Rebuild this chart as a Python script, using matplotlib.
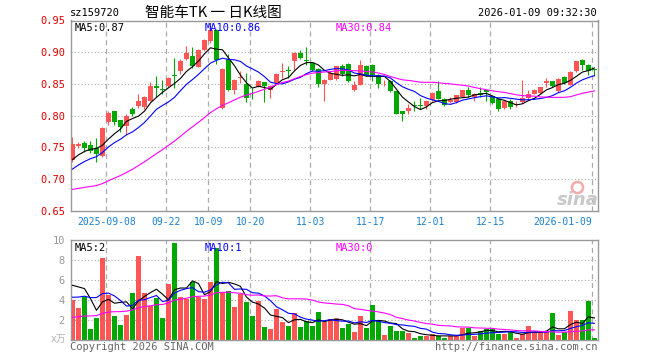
import numpy as np
import pandas as pd
import matplotlib
matplotlib.use('Agg')
import matplotlib.pyplot as plt

plt.rcParams['font.family'] = ['DejaVu Sans Mono', 'Noto Sans CJK SC']

code = 'sz159720'
title = '智能车TK 一 日K线图'
stamp = '2026-01-09 09:32:30'

# trading days shown (exchange holidays removed)
holidays = ['2025-10-01', '2025-10-02', '2025-10-03', '2025-10-06', '2025-10-07',
            '2025-10-08', '2026-01-01', '2026-01-02']
tick_dates = ['2025-09-08', '2025-09-22', '2025-10-09', '2025-10-20', '2025-11-03',
              '2025-11-17', '2025-12-01', '2025-12-15', '2026-01-09']
tick_labels = ['2025-09-08', '09-22', '10-09', '10-20', '11-03',
               '11-17', '12-01', '12-15', '2026-01-09']

open_ = [0.730, 0.752, 0.757, 0.754, 0.749, 0.737, 0.790, 0.807, 0.793, 0.784,
         0.810, 0.815, 0.814, 0.824, 0.847, 0.842, 0.847, 0.864, 0.871, 0.889,
         0.894, 0.877, 0.904, 0.918, 0.935, 0.8125, 0.889, 0.840, 0.860, 0.8505,
         0.833, 0.846, 0.8525, 0.840, 0.8515, 0.869, 0.872, 0.887, 0.899, 0.888,
         0.883, 0.873, 0.8505, 0.857, 0.858, 0.878, 0.882, 0.840, 0.849, 0.878,
         0.880, 0.8645, 0.851, 0.854, 0.8385, 0.807, 0.807, 0.8165, 0.8155, 0.816,
         0.8255, 0.8385, 0.8265, 0.8215, 0.8215, 0.8295, 0.840, 0.8295, 0.836, 0.840,
         0.8305, 0.8265, 0.8125, 0.823, 0.817, 0.8215, 0.828, 0.835, 0.836, 0.8515,
         0.854, 0.8385, 0.861, 0.849, 0.870, 0.888, 0.880, 0.8725]
high = [0.767, 0.758, 0.761, 0.760, 0.765, 0.782, 0.807, 0.808, 0.794, 0.802,
        0.813, 0.835, 0.831, 0.853, 0.862, 0.857, 0.861, 0.891, 0.889, 0.910,
        0.909, 0.905, 0.921, 0.943, 0.936, 0.875, 0.898, 0.858, 0.871, 0.867,
        0.844, 0.856, 0.853, 0.848, 0.867, 0.883, 0.879, 0.900, 0.903, 0.909,
        0.884, 0.875, 0.858, 0.870, 0.879, 0.882, 0.883, 0.854, 0.888, 0.880,
        0.881, 0.866, 0.857, 0.856, 0.8395, 0.808, 0.819, 0.823, 0.828, 0.825,
        0.837, 0.854, 0.828, 0.830, 0.833, 0.841, 0.845, 0.836, 0.846, 0.841,
        0.832, 0.828, 0.824, 0.826, 0.823, 0.857, 0.841, 0.842, 0.846, 0.859,
        0.855, 0.859, 0.862, 0.870, 0.887, 0.890, 0.881, 0.874]
low = [0.727, 0.749, 0.743, 0.741, 0.727, 0.735, 0.785, 0.786, 0.774, 0.771,
       0.800, 0.812, 0.811, 0.823, 0.830, 0.834, 0.846, 0.844, 0.866, 0.888,
       0.875, 0.876, 0.902, 0.915, 0.881, 0.811, 0.839, 0.834, 0.852, 0.821,
       0.826, 0.845, 0.821, 0.828, 0.850, 0.859, 0.859, 0.872, 0.889, 0.880,
       0.871, 0.845, 0.824, 0.856, 0.857, 0.862, 0.853, 0.8385, 0.848, 0.862,
       0.854, 0.844, 0.847, 0.8375, 0.802, 0.791, 0.8035, 0.807, 0.810, 0.810,
       0.824, 0.826, 0.816, 0.820, 0.8205, 0.829, 0.830, 0.823, 0.829, 0.823,
       0.818, 0.807, 0.810, 0.810, 0.814, 0.820, 0.8265, 0.834, 0.835, 0.846,
       0.845, 0.8375, 0.850, 0.848, 0.869, 0.8725, 0.8645, 0.863]
close = [0.755, 0.755, 0.749, 0.745, 0.739, 0.780, 0.804, 0.790, 0.782, 0.800,
         0.802, 0.823, 0.829, 0.847, 0.844, 0.841, 0.859, 0.863, 0.887, 0.899,
         0.878, 0.904, 0.919, 0.935, 0.888, 0.874, 0.840, 0.857, 0.861, 0.828,
         0.832, 0.854, 0.8475, 0.847, 0.8655, 0.870, 0.871, 0.899, 0.891, 0.887,
         0.872, 0.8505, 0.857, 0.868, 0.878, 0.865, 0.854, 0.849, 0.880, 0.8635,
         0.8645, 0.8505, 0.852, 0.8385, 0.8035, 0.802, 0.8125, 0.816, 0.815, 0.824,
         0.836, 0.827, 0.8175, 0.8255, 0.832, 0.840, 0.832, 0.835, 0.832, 0.837,
         0.8195, 0.810, 0.823, 0.814, 0.819, 0.828, 0.835, 0.841, 0.8455, 0.854,
         0.8465, 0.858, 0.8515, 0.869, 0.8855, 0.880, 0.870, 0.872]
volume = [4.0, 3.2, 4.35, 1.1, 2.2, 8.2, 4.5, 2.4, 1.5, 2.5,
          4.7, 8.4, 4.7, 3.4, 4.2, 2.2, 5.6, 9.7, 4.3, 4.15,
          5.8, 4.3, 4.1, 5.8, 9.2, 4.85, 4.9, 3.3, 4.6, 3.8,
          2.4, 3.9, 1.3, 1.1, 3.1, 1.8, 1.4, 2.7, 1.3, 1.9,
          1.4, 2.8, 1.8, 2.1, 2.2, 1.2, 1.6, 0.8, 2.4, 1.2,
          3.5, 1.9, 0.5, 1.4, 0.9, 0.9, 0.7, 0.25, 0.4, 0.4,
          0.6, 0.4, 0.25, 0.4, 0.4, 1.2, 1.2, 0.4, 0.9, 1.1,
          1.1, 0.6, 0.6, 0.8, 0.25, 0.6, 1.4, 0.8, 0.8, 0.8,
          2.7, 0.5, 0.8, 2.9, 2.0, 2.0, 3.9, 0.25]

# sessions before the window, only used to seed the moving averages
pre_close = [0.706, 0.703, 0.700, 0.698, 0.685, 0.672, 0.665, 0.660, 0.655, 0.650,
             0.648, 0.652, 0.655, 0.650, 0.653, 0.657, 0.660, 0.662, 0.664, 0.665,
             0.690, 0.695, 0.700, 0.707, 0.713, 0.718, 0.722, 0.728, 0.732]
pre_volume = [1.5, 2.0, 1.0, 1.2, 1.3, 0.9, 1.1, 1.4, 1.0, 1.2,
              1.5, 1.3, 1.1, 1.0, 1.4, 1.2, 1.3, 1.5, 1.1, 1.3,
              3.0, 3.5, 2.5, 2.2, 4.2, 4.0, 5.2, 6.1, 8.05]

ma_labels_price = ['MA5:0.87', 'MA10:0.86', 'MA30:0.84']
ma_labels_vol = ['MA5:2', 'MA10:1', 'MA30:0']
vol_unit = 'x万'

RED = '#ff5555'
GREEN = '#00a800'
MA_COLORS = ['black', '#0000ff', '#ff00ff']
GRID = '#aaaaaa'
FRAME = '#999999'

days = pd.bdate_range('2025-08-29', '2026-01-09')
days = days[~days.isin(pd.to_datetime(holidays))]
x = np.arange(len(days))
tick_x = np.array([days.get_loc(pd.Timestamp(d)) for d in tick_dates]) - 0.35

o = np.array(open_); h = np.array(high); l = np.array(low); c = np.array(close)
v = np.array(volume)
up = c >= o
colors = np.where(up, RED, GREEN)

n_pre = len(pre_close)
cs = pd.Series(pre_close + close)
vs = pd.Series(pre_volume + volume)
ma_p = [cs.rolling(n).mean().values[n_pre:] for n in (5, 10, 30)]
ma_v = [vs.rolling(n).mean().values[n_pre:] for n in (5, 10, 30)]

fig = plt.figure(figsize=(6.6, 3.6), dpi=100)
ax = fig.add_axes([70.5 / 660, 1 - 211 / 360, 527.2 / 660, 190.5 / 360])
axv = fig.add_axes([70.5 / 660, 1 - 340 / 360, 527.2 / 660, 100 / 360])

xlim = (-0.33, 87.55)

# price panel
for yv in [0.70, 0.75, 0.80, 0.85, 0.90]:
    ax.axhline(yv, color=GRID, lw=0.8, ls=(0, (1, 2)), zorder=0)
for tx in tick_x:
    ax.axvline(tx, color=GRID, lw=0.9, ls=(0, (4, 3)), zorder=0)
    axv.axvline(tx, color=GRID, lw=0.9, ls=(0, (4, 3)), zorder=0)

# sina watermark
ax.text(1.002, 0.012, 'sina', transform=ax.transAxes, ha='right', va='bottom',
        fontsize=13, fontweight='bold', style='italic', color='#c8c8c8',
        family='DejaVu Sans', zorder=1)
ax.plot([0.96], [0.125], marker='o', ms=8, mfc='none', mec='#f4aaaa', mew=1.8,
        transform=ax.transAxes, zorder=1)

ax.vlines(x, l, h, colors=colors, lw=0.8, zorder=2)
body = np.maximum(np.abs(c - o), 0.0012)
ax.bar(x, body, bottom=np.minimum(o, c), width=0.78, color=colors, lw=0, zorder=3)
for m, col in zip(ma_p, MA_COLORS):
    ax.plot(x, m, color=col, lw=0.8, zorder=4)

ax.set_xlim(*xlim)
ax.set_ylim(0.65, 0.95)
ax.set_yticks([0.65, 0.70, 0.75, 0.80, 0.85, 0.90, 0.95])
ax.set_yticklabels(['%.2f' % t for t in [0.65, 0.70, 0.75, 0.80, 0.85, 0.90, 0.95]])
ax.tick_params(axis='y', length=0, pad=4, labelsize=7.5, labelcolor='#e00000')
ax.set_xticks(tick_x)
ax.set_xticklabels(tick_labels)
ax.tick_params(axis='x', length=0, pad=4, labelsize=7, labelcolor='#1a80d0')
ax.get_xticklabels()[-1].set_ha('right')
for s in ax.spines.values():
    s.set_color(FRAME)
    s.set_linewidth(1.0)

for lab, col, fx in zip(ma_labels_price, MA_COLORS, [0.008, 0.255, 0.502]):
    ax.text(fx, 0.985, lab, transform=ax.transAxes, color=col, fontsize=7.5,
            ha='left', va='top')

# volume panel
for yv in [2, 4, 6, 8]:
    axv.axhline(yv, color=GRID, lw=0.8, ls=(0, (1, 2)), zorder=0)
axv.bar(x, v, width=0.8, color=colors, lw=0, zorder=2)
for m, col in zip(ma_v, MA_COLORS):
    axv.plot(x, m, color=col, lw=0.8, zorder=4)
axv.set_xlim(*xlim)
axv.set_ylim(0, 10)
axv.set_yticks([2, 4, 6, 8, 10])
axv.set_yticklabels(['2', '4', '6', '8', '10'])
axv.tick_params(axis='y', length=0, pad=4, labelsize=7.5, labelcolor='#999999')
axv.set_xticks([])
for s in axv.spines.values():
    s.set_color(FRAME)
    s.set_linewidth(1.0)
for lab, col, fx in zip(ma_labels_vol, MA_COLORS, [0.008, 0.255, 0.502]):
    axv.text(fx, 0.97, lab, transform=axv.transAxes, color=col, fontsize=7.5,
             ha='left', va='top')

# header and footer text
fig.text(70 / 660, 1 - 13 / 360, code, ha='left', va='center', fontsize=7.5)
fig.text(213 / 660, 1 - 13 / 360, title, ha='center', va='center', fontsize=10.5,
         family=['Noto Sans CJK SC', 'DejaVu Sans'])
fig.text(597 / 660, 1 - 13 / 360, stamp, ha='right', va='center', fontsize=7.5)
fig.text(70 / 660, 1 - 347 / 360, 'Copyright 2026 SINA.COM', ha='left', va='center',
         fontsize=7.5, color='#666666')
fig.text(597 / 660, 1 - 347 / 360, 'http://finance.sina.com.cn', ha='right',
         va='center', fontsize=7.5, color='#666666')
fig.text(66 / 660, 1 - 339 / 360, vol_unit, ha='right', va='center', fontsize=7,
         color='#b0b0b0', family=['DejaVu Sans Mono', 'Noto Sans CJK SC'])

fig.savefig('out.png', dpi=100)
